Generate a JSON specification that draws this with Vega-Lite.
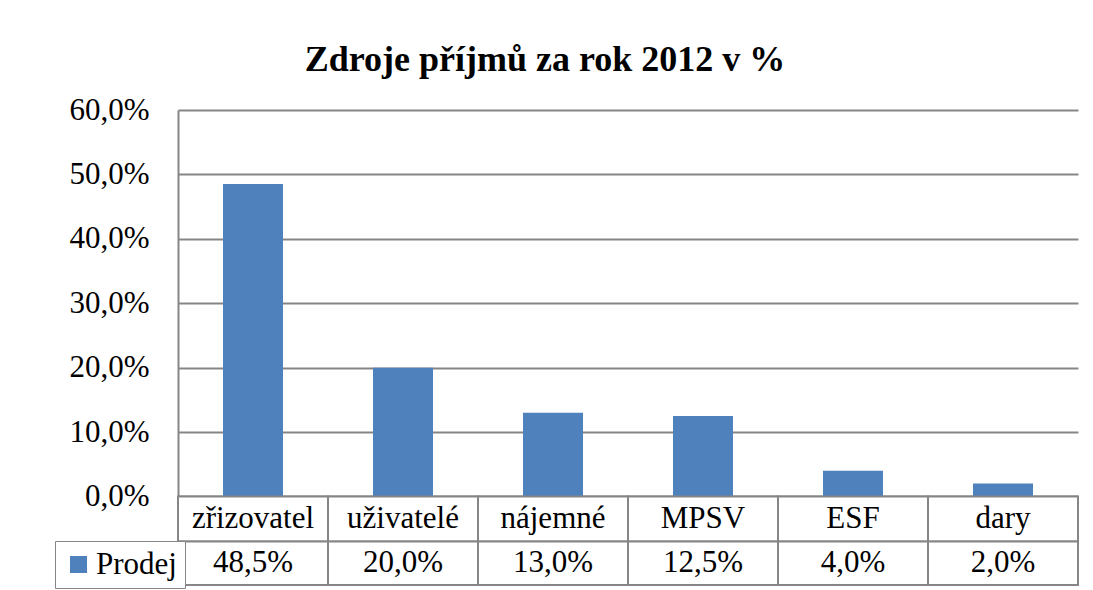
{
  "$schema": "https://vega.github.io/schema/vega-lite/v6.json",
  "autosize": {"type": "none"},
  "padding": {"left": 178, "top": 110, "right": 15, "bottom": 5},
  "width": 900,
  "height": 475,
  "background": "white",
  "title": {
    "text": "Zdroje příjmů za rok 2012 v %",
    "font": "Liberation Serif",
    "fontSize": 36,
    "fontWeight": "bold",
    "color": "black",
    "anchor": "middle",
    "frame": "group",
    "dx": -83,
    "offset": 15
  },
  "config": {
    "view": {"stroke": null},
    "locale": {
      "number": {"decimal": ",", "thousands": " ", "grouping": [3], "currency": ["", " Kč"]}
    }
  },
  "data": {
    "values": [
      {"zdroj": "zřizovatel", "podil": 0.485, "rada": "Prodej"},
      {"zdroj": "uživatelé", "podil": 0.20, "rada": "Prodej"},
      {"zdroj": "nájemné", "podil": 0.13, "rada": "Prodej"},
      {"zdroj": "MPSV", "podil": 0.125, "rada": "Prodej"},
      {"zdroj": "ESF", "podil": 0.04, "rada": "Prodej"},
      {"zdroj": "dary", "podil": 0.02, "rada": "Prodej"}
    ]
  },
  "layer": [
    {
      "mark": {"type": "bar", "width": {"band": 0.4}},
      "encoding": {
        "x": {
          "field": "zdroj", "type": "nominal", "sort": null,
          "scale": {"paddingInner": 0, "paddingOuter": 0},
          "axis": null
        },
        "y": {
          "field": "podil", "type": "quantitative",
          "scale": {"domain": [-0.1375, 0.6], "nice": false, "zero": false},
          "axis": {
            "title": null,
            "values": [0, 0.1, 0.2, 0.3, 0.4, 0.5, 0.6],
            "format": ".1%",
            "labelFont": "Liberation Serif",
            "labelFontSize": 31,
            "labelColor": "black",
            "labelPadding": 29,
            "tickSize": 0,
            "ticks": false,
            "domainColor": "#868686",
            "domainWidth": 2,
            "grid": true,
            "gridColor": "#868686",
            "gridWidth": 2
          }
        },
        "color": {
          "field": "rada", "type": "nominal",
          "scale": {"range": ["#4F81BD"]},
          "legend": {
            "title": null,
            "orient": "none",
            "legendX": -123,
            "legendY": 431,
            "symbolType": "square",
            "symbolSize": 289,
            "symbolStrokeWidth": 0,
            "labelFont": "Liberation Serif",
            "labelFontSize": 31,
            "labelColor": "black",
            "labelOffset": 2,
            "padding": 8,
            "strokeColor": "#868686",
            "fillColor": "white"
          }
        }
      }
    },
    {
      "mark": {"type": "rect", "fill": "white", "stroke": "#868686", "strokeWidth": 2},
      "encoding": {
        "x": {"field": "zdroj", "type": "nominal", "sort": null},
        "y": {"datum": 0},
        "y2": {"datum": -0.07}
      }
    },
    {
      "mark": {"type": "rect", "fill": "white", "stroke": "#868686", "strokeWidth": 2},
      "encoding": {
        "x": {"field": "zdroj", "type": "nominal", "sort": null},
        "y": {"datum": -0.07},
        "y2": {"datum": -0.1375}
      }
    },
    {
      "mark": {"type": "text", "font": "Liberation Serif", "fontSize": 31, "color": "black", "baseline": "middle"},
      "encoding": {
        "x": {"field": "zdroj", "type": "nominal", "sort": null},
        "y": {"datum": -0.035},
        "text": {"field": "zdroj"}
      }
    },
    {
      "mark": {"type": "text", "font": "Liberation Serif", "fontSize": 31, "color": "black", "baseline": "middle"},
      "encoding": {
        "x": {"field": "zdroj", "type": "nominal", "sort": null},
        "y": {"datum": -0.104},
        "text": {"field": "podil", "format": ".1%"}
      }
    }
  ]
}
